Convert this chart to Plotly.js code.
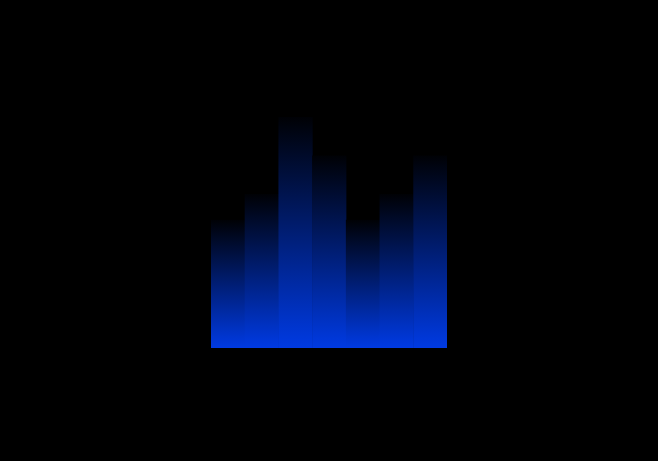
<!DOCTYPE html>
<html>
<head>
<meta charset="utf-8">
<script src="https://cdn.plot.ly/plotly-3.0.1.min.js"></script>
<style>html,body{margin:0;padding:0;background:#000;}</style>
</head>
<body>
<div id="chart" style="width:658px;height:461px;"></div>
<script>
var categories = [0, 1, 2, 3, 4, 5, 6];
var values = [100, 120, 180, 150, 100, 120, 150];
var colorBottom = 'rgb(0,58,226)';
var colorTop = 'rgb(0,1,5)';

var traces = categories.map(function (c, i) {
  var v = values[i];
  var overlap = 0.015;
  return {
    type: 'scatter',
    mode: 'none',
    x: [c - 0.5, c + 0.5 + overlap, c + 0.5 + overlap, c - 0.5, c - 0.5],
    y: [0, 0, v, v, 0],
    fill: 'toself',
    fillgradient: {
      type: 'vertical',
      start: 0,
      stop: v,
      colorscale: [[0, colorBottom], [1, colorTop]]
    },
    hoverinfo: 'skip',
    showlegend: false
  };
});

Plotly.newPlot('chart', traces, {
  width: 658,
  height: 461,
  paper_bgcolor: '#000',
  plot_bgcolor: '#000',
  margin: {l: 211, r: 211, t: 117, b: 113, pad: 0},
  xaxis: {range: [-0.5, 6.5], visible: false, fixedrange: true},
  yaxis: {range: [0, 180], visible: false, fixedrange: true},
  showlegend: false
}, {displayModeBar: false, staticPlot: true});
</script>
</body>
</html>
